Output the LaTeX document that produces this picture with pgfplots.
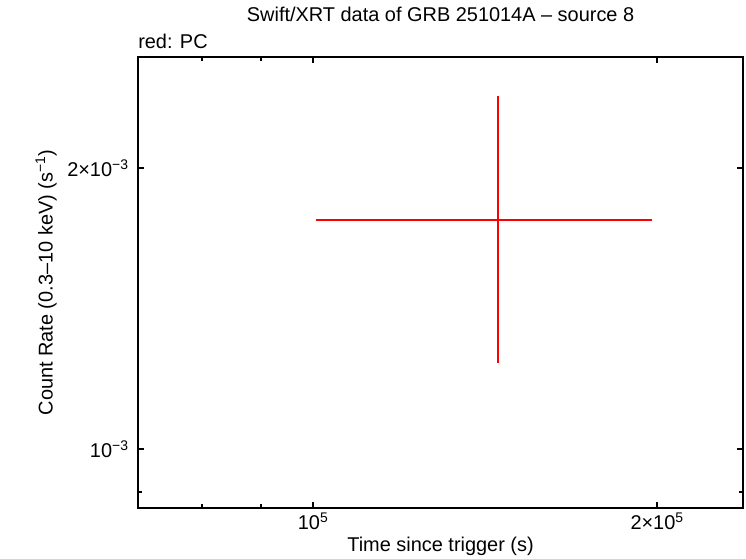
\documentclass[border=0pt]{standalone}
\usepackage{pgfplots}
\pgfplotsset{compat=1.18}
\usepackage{fontspec}
\setmainfont{Liberation Sans}
\definecolor{xrtred}{RGB}{255,0,0}
\newcommand{\tl}{\fontsize{20}{22}\selectfont}

\pgfplotstableread{
x       xp      xm      y        yp       ym
145200  52800   44600   0.001759 0.000629 0.000523
}\pcdata

\begin{document}
\begin{tikzpicture}
\begin{axis}[
  scale only axis,
  width=605bp, height=451bp,
  xmode=log, ymode=log,
  xmin=70300, xmax=237800,
  ymin=0.000865, ymax=0.00263,
  clip=false,
  axis line style={line width=1.8pt},
  every tick/.style={black, line width=1.8pt},
  major tick length=6bp, minor tick length=4bp,
  tick align=inside,
  xtick={100000,200000},
  xticklabels={{\tl 10\textsuperscript{5}},{\tl 2×10\textsuperscript{5}}},
  minor xtick={80000,90000},
  ytick={0.001,0.002},
  yticklabels={{\tl 10\textsuperscript{−3}},{\tl 2×10\textsuperscript{−3}}},
  minor ytick={0.0009},
  xticklabel style={yshift=-1bp},
  yticklabel style={xshift=-6bp},
  xlabel={Time since trigger (s)},
  ylabel={Count Rate (0.3–10 keV) (s\textsuperscript{−1})},
  label style={font=\fontsize{20}{22}\selectfont},
  xlabel style={at={(axis description cs:0.5,-0.0953)}, anchor=base},
  ylabel style={at={(axis description cs:-0.152,0.5)}, anchor=center},
  title={Swift/XRT data of GRB 251014A – source 8},
  title style={font=\fontsize{20}{22}\selectfont,
    at={(axis description cs:0.5,1.0665)}, anchor=base},
]
\addplot[xrtred, line width=2.5pt, mark=none, draw=none,
  error bars/.cd, x dir=both, y dir=both, x explicit, y explicit,
  error mark=none,
  error bar style={xrtred, line width=2.5pt}]
  table[x=x, y=y, x error plus=xp, x error minus=xm,
        y error plus=yp, y error minus=ym] {\pcdata};
\node[anchor=base west, inner sep=0pt, font=\fontsize{20}{22}\selectfont]
  at (rel axis cs:0,1) [yshift=9bp] {red: PC};
\path (rel axis cs:0,0) ++(-138bp,-50bp) coordinate (bl);
\path (rel axis cs:1,1) ++(3bp,57bp) coordinate (tr);
\end{axis}
\useasboundingbox (bl) rectangle (tr);
\end{tikzpicture}
\end{document}
